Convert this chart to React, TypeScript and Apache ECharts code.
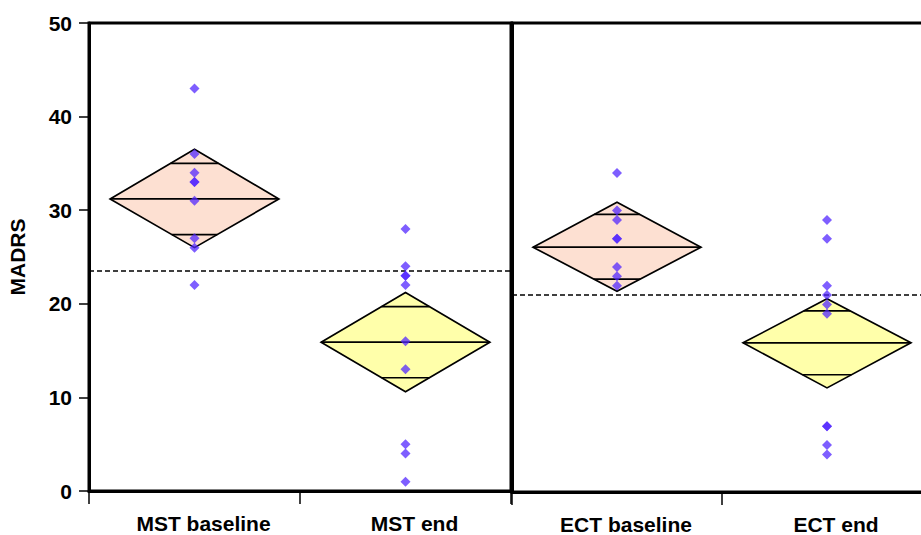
import React, { useEffect, useRef } from "react";
import * as echarts from "echarts";

// ---- data ----
const leftCategories = ["MST baseline", "MST end"];
const rightCategories = ["ECT baseline", "ECT end"];
const yTicks = [0, 10, 20, 30, 40, 50];

const mstBaseline = [43, 36, 34, 33, 33, 31, 27, 26, 22];
const mstEnd = [28, 24, 23, 23, 22, 16, 13, 5, 4, 1];
const ectBaseline = [34, 30, 29, 27, 27, 24, 23, 22];
const ectEnd = [29, 27, 22, 21, 20, 19, 7, 7, 5, 4];

// mean diamonds: mean, lower CI, upper CI, lower overlap mark, upper overlap mark
const diamondMeans = [31.2, 15.9, 26.1, 15.9];
const diamondLow = [26.0, 10.6, 21.4, 11.1];
const diamondHigh = [36.5, 21.2, 30.9, 20.6];
const overlapLow = [27.4, 12.1, 22.7, 12.5];
const overlapHigh = [35.0, 19.7, 29.6, 19.3];

const grandMeans = [23.5, 21.0];

const baselineFill = "#fde0d2";
const endFill = "#ffffaa";
const pointColor = "rgba(80, 36, 255, 0.92)";
const FONT = "'Liberation Sans', Arial, Helvetica, sans-serif";

function diamondData(start: number) {
  return [0, 1].map((i) => [
    i,
    diamondMeans[start + i],
    diamondLow[start + i],
    diamondHigh[start + i],
    overlapLow[start + i],
    overlapHigh[start + i],
  ]);
}

function renderDiamond(params: any, api: any) {
  const cat = api.value(0);
  const mean = api.value(1);
  const lo = api.value(2);
  const hi = api.value(3);
  const o1 = api.value(4);
  const o2 = api.value(5);
  const c = api.coord([cat, mean]);
  const bw = api.size([1, 0])[0];
  const hw = bw * 0.4;
  const yTop = api.coord([cat, hi])[1];
  const yBot = api.coord([cat, lo])[1];
  const yo2 = api.coord([cat, o2])[1];
  const yo1 = api.coord([cat, o1])[1];
  const halfAt = (y: number) => {
    const span = y < c[1] ? c[1] - yTop : yBot - c[1];
    return hw * (1 - Math.abs(y - c[1]) / span);
  };
  const w2 = halfAt(yo2);
  const w1 = halfAt(yo1);
  const fill = params.dataIndex === 0 ? baselineFill : endFill;
  const ls = { stroke: "#000", lineWidth: 1.7 };
  return {
    type: "group",
    children: [
      {
        type: "polygon",
        shape: {
          points: [
            [c[0] - hw, c[1]],
            [c[0], yTop],
            [c[0] + hw, c[1]],
            [c[0], yBot],
          ],
        },
        style: { fill, stroke: "#000", lineWidth: 1.7 },
      },
      { type: "line", shape: { x1: c[0] - hw, y1: c[1], x2: c[0] + hw, y2: c[1] }, style: ls },
      { type: "line", shape: { x1: c[0] - w2, y1: yo2, x2: c[0] + w2, y2: yo2 }, style: ls },
      { type: "line", shape: { x1: c[0] - w1, y1: yo1, x2: c[0] + w1, y2: yo1 }, style: ls },
    ],
  };
}

function pts(cat: number, vals: number[]) {
  return vals.map((v) => [cat, v]);
}

export default function App() {
  const ref = useRef<HTMLDivElement>(null);
  useEffect(() => {
    if (!ref.current) return;
    const chart = echarts.init(ref.current, undefined, { renderer: "svg" });
    const xAxisCommon = {
      type: "category" as const,
      boundaryGap: true,
      axisLine: { show: true, lineStyle: { color: "#000", width: 3 } },
      axisTick: { show: true, length: 13, lineStyle: { color: "#000", width: 1.5 } },
      axisLabel: {
        color: "#000",
        fontFamily: FONT,
        fontWeight: "bold" as const,
        fontSize: 21,
        margin: 22,
        padding: [0, 0, 0, 18],
      },
      splitLine: { show: false },
    };
    const option: any = {
      animation: false,
      backgroundColor: "#fff",
      grid: [
        {
          left: 89, right: 410, top: 23, bottom: 44, show: true, borderColor: "#000", borderWidth: 3,
          containLabel: false, outerBoundsMode: "none",
        },
        {
          left: 512, right: -11, top: 23, bottom: 43, show: true, borderColor: "#000", borderWidth: 3,
          containLabel: false, outerBoundsMode: "none",
        },
      ],
      xAxis: [
        { ...xAxisCommon, gridIndex: 0, data: leftCategories },
        { ...xAxisCommon, gridIndex: 1, data: rightCategories },
      ],
      yAxis: [
        {
          type: "value",
          gridIndex: 0,
          min: yTicks[0],
          max: yTicks[yTicks.length - 1],
          interval: 10,
          name: "MADRS",
          nameLocation: "middle",
          nameGap: 61,
          nameRotate: 90,
          nameTextStyle: { color: "#000", fontFamily: FONT, fontWeight: "bold", fontSize: 21 },
          axisLine: { show: true, lineStyle: { color: "#000", width: 3 } },
          axisTick: { show: true, length: 10, lineStyle: { color: "#000", width: 1.5 } },
          axisLabel: { color: "#000", fontFamily: FONT, fontWeight: "bold", fontSize: 21, margin: 17 },
          splitLine: { show: false },
        },
        {
          type: "value",
          gridIndex: 1,
          min: yTicks[0],
          max: yTicks[yTicks.length - 1],
          interval: 10,
          axisLine: { show: true, lineStyle: { color: "#000", width: 3 } },
          axisTick: { show: false },
          axisLabel: { show: false },
          splitLine: { show: false },
        },
      ],
      series: [
        {
          type: "custom",
          xAxisIndex: 0,
          yAxisIndex: 0,
          renderItem: renderDiamond,
          encode: { x: 0, y: 1 },
          data: diamondData(0),
          z: 2,
          silent: true,
        },
        {
          type: "custom",
          xAxisIndex: 1,
          yAxisIndex: 1,
          renderItem: renderDiamond,
          encode: { x: 0, y: 1 },
          data: diamondData(2),
          z: 2,
          silent: true,
        },
        {
          type: "scatter",
          xAxisIndex: 0,
          yAxisIndex: 0,
          symbol: "diamond",
          symbolSize: 10,
          itemStyle: { color: pointColor },
          data: [...pts(0, mstBaseline), ...pts(1, mstEnd)],
          z: 5,
          markLine: {
            silent: true,
            symbol: "none",
            label: { show: false },
            lineStyle: { color: "#000", type: [5, 3], width: 1.5 },
            data: [{ yAxis: grandMeans[0] }],
          },
        },
        {
          type: "scatter",
          xAxisIndex: 1,
          yAxisIndex: 1,
          symbol: "diamond",
          symbolSize: 10,
          itemStyle: { color: pointColor },
          data: [...pts(0, ectBaseline), ...pts(1, ectEnd)],
          z: 5,
          markLine: {
            silent: true,
            symbol: "none",
            label: { show: false },
            lineStyle: { color: "#000", type: [5, 3], width: 1.5 },
            data: [{ yAxis: grandMeans[1] }],
          },
        },
      ],
    };
    chart.setOption(option);
    return () => chart.dispose();
  }, []);
  return <div ref={ref} style={{ width: 921, height: 535, position: "absolute", left: 0, top: 0 }} />;
}
